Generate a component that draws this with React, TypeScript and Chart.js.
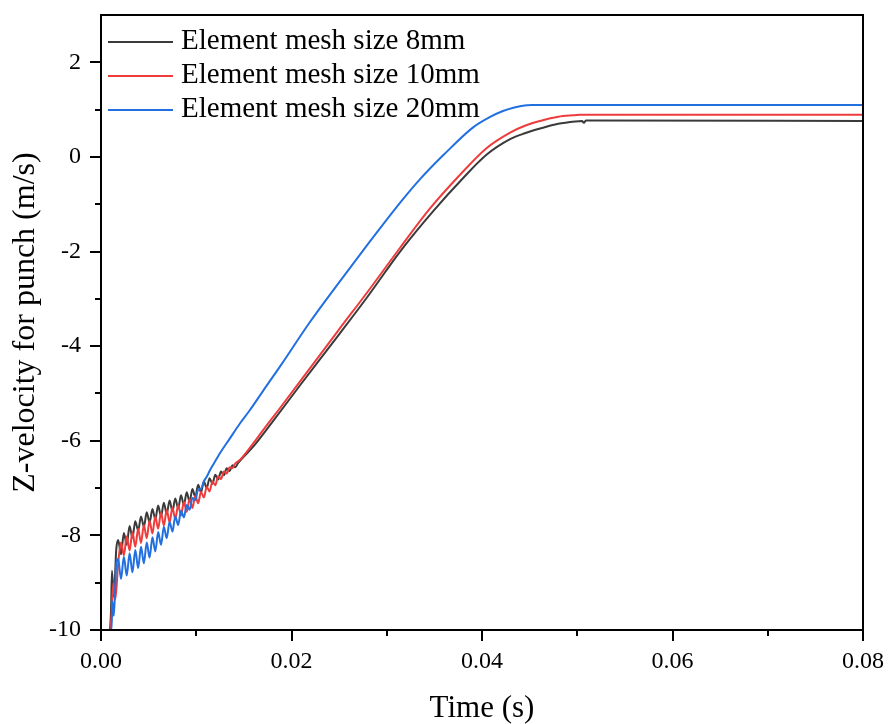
import React, { useEffect, useRef } from 'react';
import { Chart, registerables } from 'chart.js';

Chart.register(...registerables);

const seriesLabels = ['Element mesh size 8mm', 'Element mesh size 10mm', 'Element mesh size 20mm'];
const seriesColors = ['#3a3a3a', '#ee3c3c', '#2270e0'];

const time8 = [
  0, 0.0009, 0.00105, 0.00115, 0.00135, 0.0016,
  0.0018, 0.0021, 0.0024, 0.0027, 0.003, 0.0033, 0.0036, 0.0039, 0.0042, 0.0045,
  0.0048, 0.0051, 0.0054, 0.0057, 0.006, 0.0063, 0.0066, 0.0069, 0.0072, 0.0075,
  0.0078, 0.0081, 0.0084, 0.0087, 0.009, 0.0093, 0.0096, 0.0099, 0.0102, 0.0105,
  0.0108, 0.0111, 0.0114, 0.0117, 0.012, 0.0123, 0.0126, 0.0129, 0.0132, 0.0135,
  0.0138, 0.0141, 0.0144,
  0.016, 0.018, 0.021, 0.025, 0.028, 0.0314, 0.0349, 0.038, 0.0405, 0.043, 0.0445, 0.0461, 0.048, 0.0498, 0.0505, 0.0507, 0.0509, 0.08,
];
const vel8 = [
  -10, -10, -9.6, -8.75, -9.3, -8.3,
  -8.1, -8.4, -7.95, -8.2, -7.8, -8.05, -7.7, -7.9, -7.6, -7.82,
  -7.51, -7.73, -7.44, -7.66, -7.37, -7.6, -7.31, -7.55, -7.26, -7.49,
  -7.22, -7.43, -7.15, -7.36, -7.09, -7.29, -7.02, -7.19, -6.93, -7.09,
  -6.86, -7.0, -6.79, -6.91, -6.72, -6.82, -6.65, -6.73, -6.58, -6.64,
  -6.52, -6.56, -6.47,
  -6.12, -5.6, -4.8, -3.75, -2.95, -2.0, -1.14, -0.45, 0.05, 0.38, 0.5, 0.6, 0.7, 0.75, 0.76, 0.72, 0.77, 0.76,
];

const time10 = [
  0, 0.00095, 0.0011, 0.0013, 0.0015,
  0.0018, 0.0021, 0.0024, 0.0027, 0.003, 0.0033, 0.0036, 0.0039, 0.0042, 0.0045,
  0.0048, 0.0051, 0.0054, 0.0057, 0.006, 0.0063, 0.0066, 0.0069, 0.0072, 0.0075,
  0.0078, 0.0081, 0.0084, 0.0087, 0.009, 0.0093, 0.0096, 0.0099, 0.0102, 0.0105,
  0.0108, 0.0111, 0.0114, 0.0117, 0.012, 0.0123, 0.0126, 0.0129, 0.0132, 0.0135,
  0.0138, 0.0141,
  0.0146, 0.016, 0.017, 0.0186, 0.021, 0.0249, 0.028, 0.0314, 0.0345, 0.0375, 0.0405, 0.043, 0.0445, 0.0461, 0.048, 0.0495, 0.0503, 0.08,
];
const vel10 = [
  -10, -10, -9.7, -9.0, -9.35,
  -8.6, -8.15, -8.42, -8.02, -8.32, -7.93, -8.24, -7.86, -8.16, -7.78,
  -8.06, -7.69, -7.96, -7.6, -7.86, -7.52, -7.79, -7.46, -7.72, -7.41,
  -7.66, -7.36, -7.58, -7.29, -7.5, -7.23, -7.42, -7.16, -7.32, -7.08,
  -7.2, -6.97, -7.07, -6.86, -6.94, -6.75, -6.81, -6.65, -6.69, -6.56,
  -6.58, -6.48,
  -6.4, -6.05, -5.78, -5.36, -4.72, -3.67, -2.85, -1.92, -1.1, -0.42, 0.19, 0.52, 0.66, 0.76, 0.85, 0.88, 0.89, 0.89,
];

const time20 = [
  0, 0.0011, 0.0012, 0.00135, 0.0016,
  0.0018, 0.0021, 0.0024, 0.0027, 0.003, 0.0033, 0.0036, 0.0039, 0.0042, 0.0045,
  0.0048, 0.0051, 0.0054, 0.0057, 0.006, 0.0063, 0.0066, 0.0069, 0.0072, 0.0075,
  0.0078, 0.0081, 0.0084, 0.0087, 0.009, 0.0093, 0.0096, 0.0099, 0.0102, 0.0105,
  0.0108, 0.0111,
  0.0114, 0.0117, 0.012, 0.0125, 0.0135, 0.0146, 0.0156, 0.017, 0.019, 0.0219, 0.025, 0.028, 0.0316, 0.0335,
  0.036, 0.0391, 0.0408, 0.0422, 0.0433, 0.044, 0.0447, 0.0452, 0.08,
];
const vel20 = [
  -10, -10, -9.4, -9.7, -8.6,
  -8.5, -8.92, -8.45, -8.85, -8.38, -8.78, -8.31, -8.69, -8.24, -8.59,
  -8.15, -8.47, -8.04, -8.34, -7.93, -8.2, -7.82, -8.06, -7.71, -7.92,
  -7.6, -7.78, -7.48, -7.62, -7.36, -7.46, -7.21, -7.25, -7.03, -7.02,
  -6.86, -6.76,
  -6.64, -6.53, -6.43, -6.26, -5.96, -5.63, -5.36, -4.95, -4.37, -3.5, -2.65, -1.85, -0.92, -0.47,
  0.05, 0.63, 0.84, 0.97, 1.04, 1.07, 1.09, 1.1, 1.1,
];

const xTicks = [0, 0.02, 0.04, 0.06, 0.08];
const xMinorTicks = [0.01, 0.03, 0.05, 0.07];
const yTicks = [-10, -8, -6, -4, -2, 0, 2];
const yMinorTicks = [-9, -7, -5, -3, -1, 1];

const xTitle = 'Time (s)';
const yTitle = 'Z-velocity for punch (m/s)';

const SERIF = "'Liberation Serif', 'Times New Roman', serif";

const framePlugin = {
  id: 'frameAndLegend',
  afterDraw(chart: any) {
    const { ctx, chartArea, scales } = chart;
    const { left, right, top, bottom } = chartArea;
    ctx.save();
    ctx.strokeStyle = '#000';
    ctx.lineWidth = 2;
    ctx.beginPath();
    ctx.rect(left, top, right - left, bottom - top);
    ctx.stroke();
    ctx.beginPath();
    for (const v of yMinorTicks) {
      const py = Math.round(scales.y.getPixelForValue(v));
      ctx.moveTo(left - 6, py);
      ctx.lineTo(left, py);
    }
    for (const v of xMinorTicks) {
      const px = Math.round(scales.x.getPixelForValue(v));
      ctx.moveTo(px, bottom);
      ctx.lineTo(px, bottom + 6);
    }
    ctx.stroke();
    chart.data.datasets.forEach((ds: any, i: number) => {
      const y = top + 27 + 34 * i;
      ctx.strokeStyle = ds.borderColor;
      ctx.lineWidth = 2;
      ctx.beginPath();
      ctx.moveTo(left + 7, y);
      ctx.lineTo(left + 72, y);
      ctx.stroke();
      ctx.fillStyle = '#000';
      ctx.font = `29px ${SERIF}`;
      ctx.textBaseline = 'middle';
      ctx.textAlign = 'left';
      ctx.fillText(ds.label, left + 80, y - 1);
    });
    ctx.restore();
  },
};

function toPoints(ts: number[], vs: number[]) {
  return ts.map((t, i) => ({ x: t, y: vs[i] }));
}

export default function App() {
  const ref = useRef<HTMLCanvasElement>(null);
  useEffect(() => {
    if (!ref.current) return;
    const series = [
      toPoints(time8, vel8),
      toPoints(time10, vel10),
      toPoints(time20, vel20),
    ];
    const chart = new Chart(ref.current, {
      type: 'line',
      data: {
        datasets: series.map((pts, i) => ({
          label: seriesLabels[i],
          data: pts,
          borderColor: seriesColors[i],
          backgroundColor: seriesColors[i],
          borderWidth: 2,
          pointRadius: 0,
          cubicInterpolationMode: 'monotone',
          fill: false,
          order: 3 - i,
        })),
      },
      options: {
        responsive: false,
        animation: false,
        devicePixelRatio: 1,
        layout: { padding: { top: 15, right: 27, left: 0, bottom: 0 } },
        plugins: {
          legend: { display: false },
          tooltip: { enabled: false },
        },
        scales: {
          x: {
            type: 'linear',
            min: 0,
            max: 0.08,
            afterBuildTicks: (s: any) => {
              s.ticks = xTicks.map((v) => ({ value: v }));
            },
            afterFit: (s: any) => {
              s.height = 94;
              s.paddingLeft = 0;
              s.paddingRight = 0;
              s.paddingTop = 0;
              s.paddingBottom = 0;
            },
            grid: {
              display: true,
              drawOnChartArea: false,
              drawTicks: true,
              tickLength: 11,
              tickWidth: 2,
              tickColor: '#000',
              color: '#000',
              lineWidth: 2,
            },
            border: { display: false },
            ticks: {
              autoSkip: false,
              maxRotation: 0,
              padding: 6,
              color: '#000',
              font: { family: SERIF, size: 24 },
              callback: (v: any) => Number(v).toFixed(2),
            },
            title: {
              display: true,
              text: xTitle,
              color: '#000',
              font: { family: SERIF, size: 31, lineHeight: 1 },
              padding: { top: 0, bottom: 0 },
            },
          },
          y: {
            type: 'linear',
            min: -10,
            max: 3,
            afterBuildTicks: (s: any) => {
              s.ticks = yTicks.map((v) => ({ value: v }));
            },
            afterFit: (s: any) => {
              s.width = 101;
              s.paddingLeft = 0;
              s.paddingRight = 0;
              s.paddingTop = 0;
              s.paddingBottom = 0;
            },
            grid: {
              display: true,
              drawOnChartArea: false,
              drawTicks: true,
              tickLength: 11,
              tickWidth: 2,
              tickColor: '#000',
              color: '#000',
              lineWidth: 2,
            },
            border: { display: false },
            ticks: {
              autoSkip: false,
              padding: 9,
              color: '#000',
              font: { family: SERIF, size: 24 },
              callback: (v: any) => String(v),
            },
            title: {
              display: true,
              text: yTitle,
              color: '#000',
              font: { family: SERIF, size: 32, lineHeight: 1 },
              padding: { top: 10, bottom: 0 },
            },
          },
        },
      },
      plugins: [framePlugin],
    });
    return () => chart.destroy();
  }, []);

  return (
    <div style={{ position: 'absolute', left: 0, top: 0, width: 890, height: 724, background: '#fff' }}>
      <canvas ref={ref} width={890} height={724} />
    </div>
  );
}
